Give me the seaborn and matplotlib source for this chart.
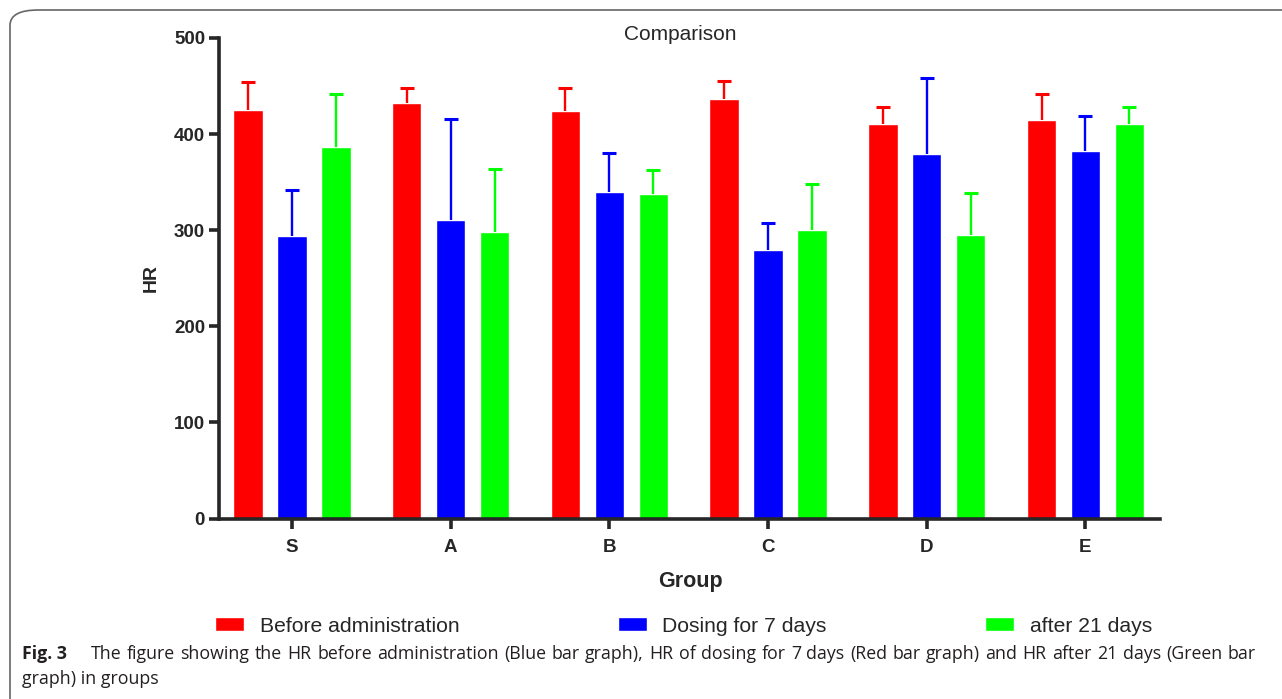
import numpy as np
import pandas as pd
import matplotlib.pyplot as plt
import seaborn as sns
from matplotlib.patches import Patch, FancyBboxPatch

# Values
groups = ["S", "A", "B", "C", "D", "E"]
series = ["Before administration", "Dosing for 7 days", "after 21 days"]
colors = ["#ff0000", "#0000ff", "#00ff00"]

before_mean = [425, 432, 424, 437, 411, 415]
before_upper = [454, 448, 448, 455, 428, 442]
dose7_mean = [294, 311, 340, 279, 379, 382]
dose7_upper = [342, 416, 380, 308, 458, 419]
after21_mean = [387, 298, 338, 300, 295, 411]
after21_upper = [442, 364, 363, 348, 339, 428]

means = [before_mean, dose7_mean, after21_mean]
uppers = [before_upper, dose7_upper, after21_upper]

caption_line1 = ("The figure showing the HR before administration (Blue bar graph), HR of dosing "
                 "for 7 days (Red bar graph) and HR after 21 days (Green bar")
caption_line2 = "graph) in groups"

rows = []
for s, m in zip(series, means):
    for g, v in zip(groups, m):
        rows.append({"Group": g, "Series": s, "HR": v})
df = pd.DataFrame(rows)

sns.set_style("ticks")
plt.rcParams["font.family"] = ["Liberation Sans", "DejaVu Sans"]

W, H = 1282, 699
fig = plt.figure(figsize=(W / 100, H / 100), dpi=100)
ax = fig.add_axes([219 / W, 1 - 518.5 / H, (1160 - 219) / W, (518.5 - 38) / H])

sns.barplot(data=df, x="Group", y="HR", hue="Series", hue_order=series,
            palette=colors, width=0.83, gap=0.33, errorbar=None,
            saturation=1, legend=False, ax=ax)

# one-sided error bars: stem from bar top to upper value, cap only at top
for cont, col, up in zip(ax.containers, colors, uppers):
    xs = [b.get_x() + b.get_width() / 2 for b in cont]
    hs = [b.get_height() for b in cont]
    ax.vlines(xs, hs, up, colors=col, linewidth=1.7, zorder=1)
    ax.plot(xs, up, linestyle="none", marker="_", markersize=10.5,
            markeredgewidth=2.2, color=col, zorder=1)

ax.set_ylim(0, 500)
ax.set_xlim(-0.46, 5.47)
ax.set_yticks([0, 100, 200, 300, 400, 500])
sns.despine(ax=ax)
ax.spines["left"].set_linewidth(2.6)
ax.spines["bottom"].set_linewidth(2.6)
ax.tick_params(axis="both", length=7, width=2.6, labelsize=13.5, pad=3)
ax.tick_params(axis="x", pad=8)
for lab in ax.get_xticklabels() + ax.get_yticklabels():
    lab.set_fontweight("bold")

ax.set_xlabel("Group", fontsize=15.5, fontweight="bold")
ax.set_ylabel("HR", fontsize=14, fontweight="bold")
ax.xaxis.set_label_coords((690 - 219) / (1160 - 219), -0.11)
ax.yaxis.set_label_coords((160 - 219) / (1160 - 219), 0.5)
fig.text(680 / W, 1 - 35 / H, "Comparison", ha="center", va="center", fontsize=15)

handles = [Patch(facecolor=c, label=s) for c, s in zip(colors, series)]
fig.legend(handles=handles, loc="center", bbox_to_anchor=(683.5 / W, 1 - 626 / H),
           ncol=3, frameon=False, fontsize=15.2, handlelength=1.37,
           handleheight=0.62, handletextpad=0.75, columnspacing=7.5,
           borderpad=0, borderaxespad=0)

# caption (first line justified to the right margin)
cap_font = dict(fontsize=12.8, family=["Open Sans", "DejaVu Sans"], color="#231f20",
                va="center")
fig.text(22 / W, 1 - 654 / H, "Fig. 3", fontweight="bold", **cap_font)
renderer = fig.canvas.get_renderer()
words = caption_line1.split(" ")
objs = [fig.text(0, 1 - 654 / H, w, **cap_font) for w in words]
widths = [o.get_window_extent(renderer).width for o in objs]
left, right = 91, 1256
gap = (right - left - sum(widths)) / (len(words) - 1)
x = left
for o, wd in zip(objs, widths):
    o.set_x(x / W)
    x += wd + gap
fig.text(22 / W, 1 - 679 / H, caption_line2, **cap_font)

# rounded frame around the figure
frame = FancyBboxPatch((10 / W, -0.2), 1.2, 1.2 - 10 / H,
                       boxstyle="round,pad=0,rounding_size=0.022",
                       transform=fig.transFigure, facecolor="none",
                       edgecolor="#666666", linewidth=1.2, zorder=0)
fig.patches.append(frame)

fig.savefig("out.png", dpi=100)
